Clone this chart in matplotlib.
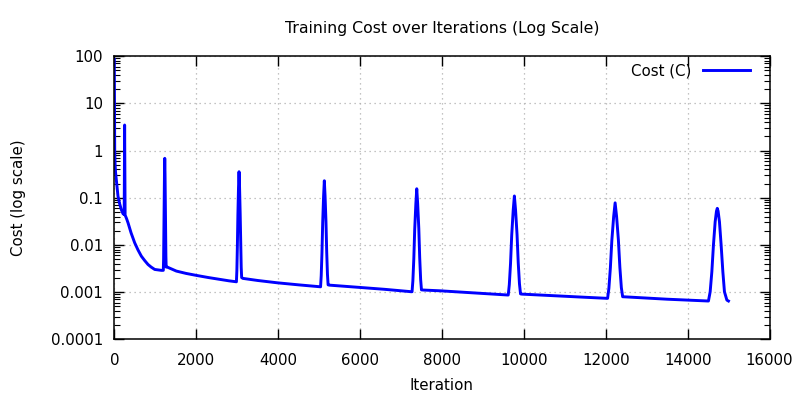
import numpy as np
import matplotlib
matplotlib.use("Agg")
import matplotlib.pyplot as plt
from matplotlib.ticker import FixedLocator, LogLocator, NullFormatter, NullLocator

# slow decay of the cost between the spikes (iteration, cost)
decay_iter = [0, 3, 6, 10, 20, 30, 49, 70, 90, 130, 171, 212,
              264, 300, 335, 410, 498, 580, 660, 740, 823, 900, 987, 1070, 1150,
              1300, 1400, 1515, 1750, 2013, 2300, 2582, 2800,
              3140, 3500, 3981, 4500,
              5252, 5600, 6000, 6600,
              7548, 7955, 8500, 9000,
              9951, 10500, 11000, 11500,
              12433, 13000, 13500, 13996]
decay_cost = [85, 20, 3.0, 1.0, 0.5, 0.35, 0.24, 0.15, 0.108, 0.075, 0.056, 0.046,
              0.043, 0.036, 0.0295, 0.018, 0.0111, 0.0078, 0.0058, 0.0047, 0.00386, 0.0034, 0.00303, 0.00296, 0.0029,
              0.00338, 0.0031, 0.0028, 0.0025, 0.00226, 0.00204, 0.00186, 0.00174,
              0.00196, 0.00177, 0.00158, 0.00143,
              0.00141, 0.00134, 0.00126, 0.00115,
              0.00111, 0.00107, 0.00100, 0.00094,
              0.00091, 0.00086, 0.00082, 0.00078,
              0.00080, 0.00075, 0.00071, 0.00068]

# the eight restart spikes
spike_iter = [241, 243, 245, 247, 250, 252, 254, 257, 259, 262, 264,
              1197, 1204, 1210, 1217, 1225, 1232, 1239, 1247, 1254, 1260, 1267,
              2982, 2993, 3005, 3018, 3033, 3046, 3059, 3074, 3087, 3099, 3110,
              5037, 5053, 5071, 5089, 5111, 5129, 5147, 5169, 5187, 5205, 5221,
              7271, 7291, 7314, 7336, 7364, 7386, 7408, 7436, 7458, 7481, 7501,
              9620, 9646, 9676, 9705, 9741, 9770, 9799, 9835, 9864, 9894, 9920,
              12046, 12078, 12114, 12150, 12194, 12230, 12266, 12310, 12346, 12382, 12414,
              14509, 14551, 14592, 14631, 14673, 14705, 14725, 14745, 14778, 14819, 14861, 14900, 14959, 14998]
spike_cost = [0.044, 0.068, 0.174, 0.615, 1.83, 3.47, 1.83, 0.615, 0.174, 0.068, 0.043,
              0.0029, 0.0050, 0.0162, 0.0786, 0.308, 0.684, 0.316, 0.0838, 0.0181, 0.0058, 0.0034,
              0.00166, 0.00286, 0.00905, 0.0426, 0.163, 0.356, 0.167, 0.0459, 0.0103, 0.00339, 0.00204,
              0.0013, 0.00224, 0.00677, 0.0299, 0.108, 0.229, 0.109, 0.0309, 0.00713, 0.00241, 0.00143,
              0.00102, 0.00173, 0.00506, 0.0214, 0.0747, 0.155, 0.0757, 0.0222, 0.00536, 0.00186, 0.00112,
              0.00087, 0.00144, 0.00405, 0.0162, 0.054, 0.109, 0.0545, 0.0166, 0.0042, 0.00151, 0.00092,
              0.00074, 0.00121, 0.00327, 0.0125, 0.0397, 0.078, 0.0399, 0.0127, 0.00336, 0.00125, 0.00080,
              0.00065, 0.00102, 0.0027, 0.00995, 0.031, 0.052, 0.0596, 0.052, 0.031, 0.00995, 0.0027, 0.00102, 0.00068, 0.00065]

x_ticks = [0, 2000, 4000, 6000, 8000, 10000, 12000, 14000, 16000]
y_ticks = [0.0001, 0.001, 0.01, 0.1, 1, 10, 100]
y_labels = ["0.0001", "0.001", "0.01", "0.1", "1", "10", "100"]

# merge both sets of points in iteration order
it = np.array(decay_iter + spike_iter, dtype=float)
c = np.array(decay_cost + spike_cost, dtype=float)
order = np.argsort(it, kind="stable")
it, c = it[order], c[order]

plt.rcParams["font.family"] = "DejaVu Sans"
fig = plt.figure(figsize=(8, 4), dpi=100)
ax = fig.add_axes([114.3 / 800, 1 - 339.4 / 400, 655.2 / 800, 283.3 / 400])

ax.plot(it, c, color="#0000ff", lw=2.1, label="Cost (C)", solid_joinstyle="round")

ax.set_yscale("log")
ax.set_xlim(0, 16000)
ax.set_ylim(0.0001, 100)

ax.xaxis.set_major_locator(FixedLocator(x_ticks))
ax.xaxis.set_minor_locator(NullLocator())
ax.set_xticklabels([str(v) for v in x_ticks])
ax.yaxis.set_major_locator(FixedLocator(y_ticks))
ax.set_yticklabels(y_labels)
ax.yaxis.set_minor_locator(LogLocator(base=10, subs=np.arange(2, 10)))
ax.yaxis.set_minor_formatter(NullFormatter())

ax.tick_params(which="both", direction="in", top=True, right=True, labelsize=10.8, colors="black")
ax.tick_params(which="major", length=7, width=1)
ax.tick_params(which="minor", length=4, width=0.8)
ax.tick_params(axis="y", pad=8)
ax.tick_params(axis="x", pad=10)

ax.grid(True, which="major", color="#b0b0b0", linestyle=(0, (1, 3)), lw=0.9)
for s in ax.spines.values():
    s.set_linewidth(1.1)

leg = ax.legend(loc="upper right", bbox_to_anchor=((749.5 - 114.3) / 655.2, (339.4 - 63) / 283.3),
                frameon=False, markerfirst=False, handlelength=3.1, handletextpad=0.75,
                borderpad=0, borderaxespad=0, fontsize=10.8)

fig.text(441.9 / 800, 1 - 29 / 400, "Training Cost over Iterations (Log Scale)",
         ha="center", va="center", fontsize=11.3)
fig.text(441.9 / 800, 1 - 385 / 400, "Iteration", ha="center", va="center", fontsize=10.8)
fig.text(19 / 800, 1 - 198 / 400, "Cost (log scale)", ha="center", va="center",
         rotation=90, fontsize=10.8)

fig.savefig("out.png", dpi=100)
